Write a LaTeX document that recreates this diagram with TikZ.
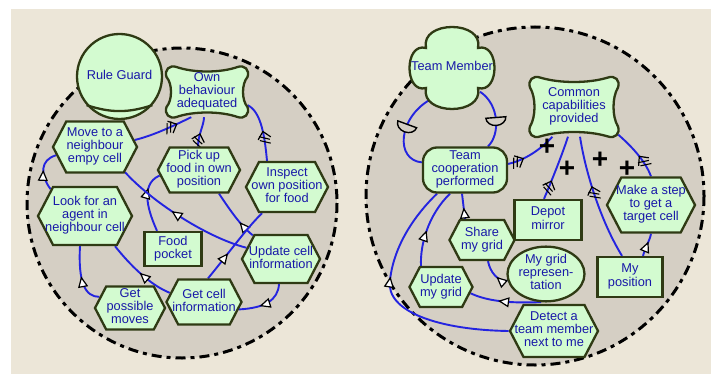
\documentclass[tikz,border=0pt]{standalone}
\usepackage{fontspec}
\newfontfamily\labfont{Liberation Sans}
\usetikzlibrary{shapes.geometric,shapes.symbols,arrows.meta,decorations.markings}
\definecolor{paper}{HTML}{ECE6D8}
\definecolor{inner}{HTML}{D5CFC4}
\definecolor{elemfill}{HTML}{D3FBD0}
\definecolor{elemline}{HTML}{2F3A14}
\definecolor{labelblue}{HTML}{1818A8}
\definecolor{linkblue}{HTML}{2424E0}
\pgfdeclarelayer{bg}
\pgfdeclarelayer{links}
\pgfsetlayers{bg,links,main}

% centred multi-line label that does not widen its node
\newcommand{\ntxt}[1]{\makebox[0pt]{\begin{tabular}{@{}c@{}}#1\end{tabular}}}

% soft goal outline: centre x, centre y, half width, half height
\newcommand{\pillow}[4]{%
  \begin{scope}[shift={(#1,#2)}]
  \filldraw[elemshape] (-#3+10,-#4)
   .. controls (-#3/3,-#4+6) and (#3/3,-#4+6) .. (#3-10,-#4)
   .. controls (#3-3,-#4-2.5) and (#3+2.5,-#4+3) .. (#3,-#4+10)
   .. controls (#3-6,-#4/3) and (#3-6,#4/3) .. (#3,#4-10)
   .. controls (#3+2.5,#4-3) and (#3-3,#4+2.5) .. (#3-10,#4)
   .. controls (#3/3,#4-6) and (-#3/3,#4-6) .. (-#3+10,#4)
   .. controls (-#3+3,#4+2.5) and (-#3-2.5,#4-3) .. (-#3,#4-10)
   .. controls (-#3+6,#4/3) and (-#3+6,-#4/3) .. (-#3,-#4+10)
   .. controls (-#3-2.5,-#4+3) and (-#3+3,-#4-2.5) .. cycle;
  \end{scope}}

\tikzset{
  elemshape/.style={draw=elemline, line width=2.3pt, fill=elemfill},
  lbl/.style={inner sep=0pt, text=labelblue, font={\labfont\fontsize{12.8}{12.6}\selectfont}},
  elem/.style={lbl, elemshape},
  taskbox/.style={elem, signal, signal to=east and west, signal pointer angle=125},
  resbox/.style={elem, rectangle},
  goalbox/.style={elem, rectangle, rounded corners=14pt},
  beliefbox/.style={elem, ellipse},
  plusmark/.style={inner sep=0pt, text=black, font={\labfont\bfseries\fontsize{28}{28}\selectfont}},
  boundary/.style={draw=black, line width=3pt, fill=inner,
    dash pattern=on 10pt off 5pt on 4pt off 5pt},
  link/.style={draw=linkblue, line width=1.9pt},
  meansend/.style={decoration={markings, mark=at position #1 with
    {\arrow{Triangle[length=11pt,width=10pt,color=black,fill=white,line width=1.2pt]}}},
    postaction=decorate},
  contrib/.style={decoration={markings, mark=at position #1 with
    {\draw[black,line width=1.1pt] (-10pt,-5pt) -- (-5pt,5pt) (-14pt,-5pt) -- (-9pt,5pt);
     \arrow{Straight Barb[length=7pt,width=13pt,color=black,line width=1.2pt]}}},
    postaction=decorate},
  depmark/.style={decoration={markings, mark=at position #1 with
    {\draw[black,line width=1.4pt,fill=inner] (3pt,-10pt) -- (3pt,10pt)
       arc[start angle=90,end angle=270,x radius=8pt,y radius=10pt] -- cycle;}},
    postaction=decorate}
}

\begin{document}
\begin{tikzpicture}[x=1pt,y=-1pt]
\useasboundingbox (0,0) rectangle (711,374);

\begin{pgfonlayer}{bg}
  \fill[white] (0,0) rectangle (711,374);
  \fill[paper] (11,9) rectangle (711,374);
  \path[boundary] (182,203) circle[radius=155];
  \path[boundary] (535,196) circle[radius=169];
\end{pgfonlayer}

% ---------- left actor ----------
\node[elem, circle, minimum size=85pt] (rg) at (119.5,76.5) {\ntxt{Rule Guard}};
\draw[draw=elemline, line width=2.3pt] (rg.221) to[bend right=18] (rg.-41);

\pillow{207}{92}{40.5}{25}
\node[lbl, minimum width=81pt, minimum height=50pt] (own) at (207,92) {\ntxt{Own\\behaviour\\adequated}};

\node[taskbox, minimum width=84pt, minimum height=51pt] (move) at (95,147) {\ntxt{Move to a\\neighbour\\empy cell}};
\node[taskbox, minimum width=82pt, minimum height=45pt] (pick) at (199,170) {\ntxt{Pick up\\food in own\\position}};
\node[taskbox, minimum width=82pt, minimum height=50pt] (inspect) at (287,187) {\ntxt{Inspect\\own position\\for food}};
\node[taskbox, minimum width=94pt, minimum height=58pt] (look) at (85,216) {\ntxt{Look for an\\agent in\\neighbour cell}};
\node[resbox, minimum width=57pt, minimum height=34pt] (food) at (173,249) {\ntxt{Food\\pocket}};
\node[taskbox, minimum width=78pt, minimum height=48pt] (updcell) at (281,259) {\ntxt{Update cell\\information}};
\node[taskbox, minimum width=75pt, minimum height=45pt] (getcell) at (204,302) {\ntxt{Get cell\\information}};
\node[taskbox, minimum width=70pt, minimum height=43pt] (getposs) at (130,308) {\ntxt{Get\\possible\\moves}};

% ---------- right actor ----------
\begin{scope}[shift={(452,68)}]
  \filldraw[elemshape] (-26,-20) .. controls (-32,-48) and (32,-48) .. (26,-20)
    .. controls (48,-26) and (48,26) .. (26,20)
    .. controls (32,48) and (-32,48) .. (-26,20)
    .. controls (-48,26) and (-48,-26) .. cycle;
\end{scope}
\node[lbl, minimum width=80pt, minimum height=87pt] (tm) at (452,68) {\ntxt{Team Member}};

\pillow{574}{107}{44}{29.5}
\node[lbl, minimum width=88pt, minimum height=59pt] (common) at (574,107) {\ntxt{Common\\capabilities\\provided}};

\node[goalbox, minimum width=84pt, minimum height=45pt] (tc) at (465,170) {\ntxt{Team\\cooperation\\performed}};
\node[taskbox, minimum width=88pt, minimum height=55pt] (makestep) at (651,205) {\ntxt{Make a step\\to get a\\target cell}};
\node[resbox, minimum width=67pt, minimum height=40pt] (depot) at (548,220) {\ntxt{Depot\\mirror}};
\node[taskbox, minimum width=65pt, minimum height=40pt] (share) at (482,240) {\ntxt{Share\\my grid}};
\node[beliefbox, minimum width=77pt, minimum height=42pt] (mygrid) at (546,274) {\ntxt{My grid\\represen-\\tation}};
\node[resbox, minimum width=65pt, minimum height=40pt] (mypos) at (630,277) {\ntxt{My\\position}};
\node[taskbox, minimum width=63pt, minimum height=40pt] (umg) at (441,287) {\ntxt{Update\\my grid}};
\node[taskbox, minimum width=88pt, minimum height=52pt] (detect) at (554,331) {\ntxt{Detect a\\team member\\next to me}};

\node[plusmark] (plus1) at (547,147) {+};
\node[plusmark] (plus2) at (567,169) {+};
\node[plusmark] (plus3) at (600,160) {+};
\node[plusmark] (plus4) at (627,169) {+};

% ---------- links ----------
\begin{pgfonlayer}{links}
  % left actor
  \draw[link, contrib=0.75] (move.10) .. controls (155,135) and (175,125) .. (own.-122);
  \draw[link, contrib=0.45] ([xshift=-1pt]pick.north) .. controls (198,135) and (204,125) .. ([xshift=-3pt]own.south);
  \draw[link, contrib=0.5] ([xshift=-20pt]inspect.north) .. controls (265,140) and (262,112) .. (own.-18);
  \draw[link, meansend=0.5] (look.142) .. controls (40,175) and (40,160) .. (move.192);
  \draw[link, meansend=0.72] ([xshift=-16pt]food.north) .. controls (150,215) and (138,185) .. (pick.188);
  \draw[link, meansend=0.58] (updcell.162) .. controls (205,237) and (150,200) .. (move.-40);
  \draw[link, meansend=0.35] (updcell.140) .. controls (240,225) and (230,210) .. ([xshift=20pt]pick.south);
  \draw[link, meansend=0.38] ([xshift=4pt]getcell.north) .. controls (225,258) and (245,230) .. ([xshift=-25pt]inspect.south);
  \draw[link, meansend=0.5] (getcell.165) .. controls (150,285) and (130,265) .. ([xshift=30pt]look.south);
  \draw[link, meansend=0.5] (getposs.160) .. controls (85,297) and (78,282) .. ([xshift=-5pt]look.south);
  \draw[link, meansend=0.6] ([xshift=-2pt]updcell.south) .. controls (278,300) and (265,308) .. (getcell.-12);
  % right actor
  \draw[link, depmark=0.55] (tc.170) .. controls (395,160) and (398,118) .. ([xshift=-22pt,yshift=12pt]tm.south);
  \draw[link, depmark=0.45] ([xshift=23pt]tc.north) .. controls (500,135) and (500,105) .. ([xshift=28pt,yshift=20pt]tm.south);
  \draw[link, contrib=0.32] (tc.8) .. controls (525,160) and (540,150) .. (common.-126);
  \draw[link, contrib=0.3] ([xshift=-4pt]depot.north) .. controls (552,180) and (562,155) .. ([xshift=-6pt]common.south);
  \draw[link, contrib=0.6] ([xshift=-8pt]mypos.north) .. controls (600,220) and (585,170) .. ([xshift=6pt]common.south);
  \draw[link, contrib=0.45] (makestep.north) .. controls (645,160) and (630,145) .. (common.-32);
  \draw[link, meansend=0.65] ([xshift=13pt]mypos.north) .. controls (645,248) and (650,240) .. (makestep.south);
  \draw[link, meansend=0.45] ([xshift=-17pt]share.north) -- ([xshift=-3pt]tc.south);
  \draw[link, meansend=0.45] ([xshift=-20pt]umg.north) .. controls (420,245) and (428,215) .. ([xshift=-15pt]tc.south);
  \draw[link, meansend=0.6] (detect.west) .. controls (440,330) and (385,312) .. (390,280)
    .. controls (394,245) and (415,215) .. ([xshift=-28pt]tc.south);
  \draw[link, meansend=0.4] (mygrid.190) .. controls (498,282) and (490,272) .. ([xshift=6pt]share.south);
  \draw[link, meansend=0.6] (mygrid.-100) .. controls (530,302) and (495,305) .. (umg.-12);
\end{pgfonlayer}
\end{tikzpicture}
\end{document}
